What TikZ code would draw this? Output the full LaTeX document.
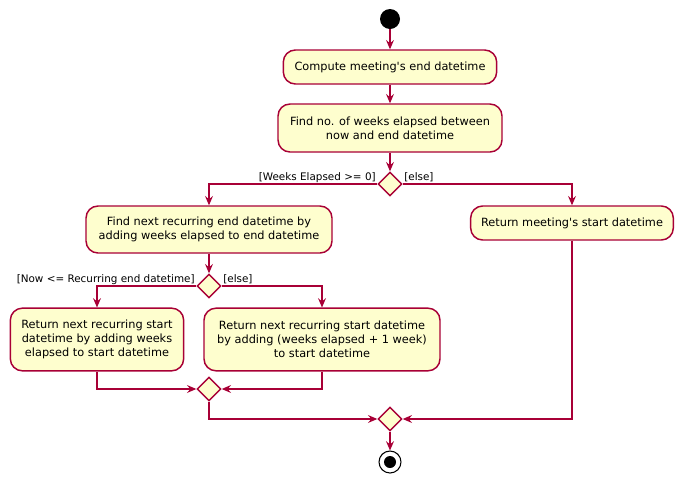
\documentclass[tikz,border=0pt]{standalone}
\usepackage{fontspec}
\setmainfont{DejaVu Sans}
\usetikzlibrary{shapes.geometric,arrows.meta}
\definecolor{umlred}{HTML}{A80036}
\definecolor{umlfill}{HTML}{FEFECE}
\tikzset{
  act/.style={draw=umlred, fill=umlfill, line width=1.1pt, rounded corners=9pt,
    align=center, inner sep=0pt, font=\fontsize{8.5}{10.5}\selectfont},
  dec/.style={draw=umlred, fill=umlfill, line width=1.1pt, diamond, aspect=1,
    minimum size=18pt, inner sep=0pt},
  arr/.style={draw=umlred, line width=0.8pt, -{Stealth[length=7pt,width=6pt,inset=2.5pt]}},
  guard/.style={font=\fontsize{7.8}{9}\selectfont, inner sep=1pt}
}
\begin{document}
\begin{tikzpicture}[x=0.75pt,y=-0.75pt]
\useasboundingbox (0,0) rectangle (682,483);
\node[circle, fill=black, minimum size=15pt, inner sep=0pt] (start) at (390,19) {};
\node[act, minimum width=160pt, minimum height=25.5pt] (b1) at (390,67) {Compute meeting\textquotesingle s end datetime};
\node[act, minimum width=168pt, minimum height=36pt] (b2) at (390,128) {Find no. of weeks elapsed between\\now and end datetime};
\node[dec] (d1) at (390,184) {};
\node[act, minimum width=184.5pt, minimum height=35.25pt] (b3) at (209,229.5) {Find next recurring end datetime by\\adding weeks elapsed to end datetime};
\node[act, minimum width=152pt, minimum height=25.5pt] (b4) at (572,223) {Return meeting\textquotesingle s start datetime};
\node[dec] (d2) at (209,286) {};
\node[act, minimum width=130pt, minimum height=47pt] (b5) at (97,339.5) {Return next recurring start\\datetime by adding weeks\\elapsed to start datetime};
\node[act, minimum width=177pt, minimum height=47pt] (b6) at (322,339.5) {Return next recurring start datetime\\by adding (weeks elapsed + 1 week)\\to start datetime};
\node[dec] (d3) at (209,389) {};
\node[dec] (d4) at (390,419) {};
\node[circle, draw=black, fill=white, line width=0.8pt, minimum size=16.5pt, inner sep=0pt] (endo) at (390,462) {};
\node[circle, fill=black, minimum size=9pt, inner sep=0pt] (endi) at (endo) {};

\draw[arr] (start) -- (b1);
\draw[arr] (b1) -- (b2);
\draw[arr] (b2) -- (d1);
\draw[arr] (d1.west) -| (b3.north);
\draw[arr] (d1.east) -| (b4.north);
\node[guard, anchor=base east] (g1) at ([yshift=2.5pt]d1.west) {[Weeks Elapsed >= 0]};
\node[guard, anchor=base west] (g2) at ([yshift=2.5pt]d1.east) {[else]};
\draw[arr] (b3) -- (d2);
\draw[arr] (d2.west) -| (b5.north);
\draw[arr] (d2.east) -| (b6.north);
\node[guard, anchor=base east] (g3) at ([yshift=2.5pt]d2.west) {[Now <= Recurring end datetime]};
\node[guard, anchor=base west] (g4) at ([yshift=2.5pt]d2.east) {[else]};
\draw[arr] (b5.south) |- (d3.west);
\draw[arr] (b6.south) |- (d3.east);
\draw[arr] (d3.south) |- (d4.west);
\draw[arr] (b4.south) |- (d4.east);
\draw[arr] (d4) -- (endo);
\end{tikzpicture}
\end{document}
